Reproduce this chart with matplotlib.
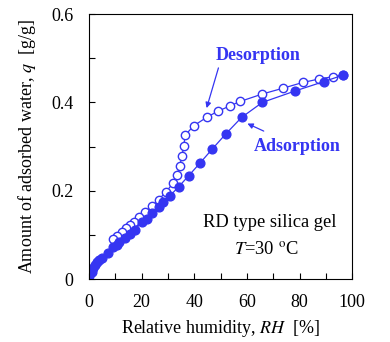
import matplotlib.pyplot as plt
from matplotlib.ticker import MultipleLocator

# adsorption / desorption isotherm, RD type silica gel, 30 C
rh_ads = [0.1, 1.0, 1.65, 2.4, 3.2, 3.9, 4.8, 7.4, 9.3, 10.6, 11.6, 13.7, 15.6, 17.6,
          20.1, 22.0, 23.9, 26.5, 28.1, 30.7, 34.1, 37.9, 42.1, 46.8, 51.9, 58.0,
          65.9, 78.4, 89.2, 96.7]
q_ads = [0.007, 0.017, 0.024, 0.032, 0.038, 0.043, 0.048, 0.060, 0.072, 0.077, 0.083,
         0.094, 0.103, 0.112, 0.130, 0.137, 0.149, 0.164, 0.174, 0.188, 0.209, 0.234,
         0.262, 0.294, 0.328, 0.366, 0.400, 0.426, 0.447, 0.462]

rh_des = [96.7, 92.6, 87.5, 81.2, 73.7, 65.9, 57.4, 53.6, 49.0, 44.7, 39.8, 36.6, 36.0,
          35.4, 34.5, 33.5, 31.9, 29.4, 26.5, 23.9, 21.4, 19.2, 17.3, 15.6, 14.1, 12.5,
          10.8, 9.3]
q_des = [0.462, 0.458, 0.453, 0.445, 0.432, 0.419, 0.402, 0.392, 0.380, 0.366, 0.347,
         0.326, 0.302, 0.279, 0.257, 0.235, 0.217, 0.198, 0.180, 0.165, 0.151, 0.140,
         0.130, 0.122, 0.115, 0.106, 0.097, 0.090]

blue = '#3535f2'
plt.rcParams['font.family'] = ['Liberation Serif', 'DejaVu Serif']
plt.rcParams['mathtext.fontset'] = 'stix'

fig = plt.figure(figsize=(3.9, 3.42), dpi=100)
ax = fig.add_axes([0.228, 0.184, 0.675, 0.775])

# desorption first so filled points sit on top
ax.plot(rh_des, q_des, '-o', color=blue, mfc='white', mec=blue, ms=6, mew=1.0, lw=0.9)
ax.plot(rh_ads, q_ads, '-o', color=blue, mfc=blue, mec=blue, ms=6.3, lw=0.9)

ax.set_xlim(0, 100)
ax.set_ylim(0, 0.6)
ax.xaxis.set_major_locator(MultipleLocator(20))
ax.xaxis.set_minor_locator(MultipleLocator(10))
ax.yaxis.set_major_locator(MultipleLocator(0.2))
ax.yaxis.set_minor_locator(MultipleLocator(0.1))
ax.tick_params(which='both', direction='in', length=4, width=0.8, labelsize=13)
ax.tick_params(axis='y', pad=11)
ax.tick_params(axis='x', pad=11)
ax.set_yticks([0, 0.2, 0.4, 0.6])
ax.set_yticklabels(['0', '0.2', '0.4', '0.6'])

ax.set_xlabel('Relative humidity, $\\it{RH}$  [%]', fontsize=13, va='center')
ax.set_ylabel('Amount of adsorbed water, $\\it{q}$  [g/g]', fontsize=13, va='center')
ax.xaxis.set_label_coords(0.5, -0.185)
ax.yaxis.set_label_coords(-0.236, 0.5)

# labels and arrows
arrow = dict(arrowstyle='-|>', color=blue, lw=0.9, shrinkA=0, shrinkB=0,
             mutation_scale=8)
ax.text(64.3, 0.505, 'Desorption', ha='center', va='center', color=blue,
        fontsize=13, fontweight='bold')
ax.annotate('', xy=(44.7, 0.387), xytext=(49.2, 0.478), arrowprops=arrow)
ax.text(79.3, 0.300, 'Adsorption', ha='center', va='center', color=blue,
        fontsize=13, fontweight='bold')
ax.annotate('', xy=(60.2, 0.352), xytext=(66.4, 0.335), arrowprops=arrow)

ax.text(68.7, 0.129, 'RD type silica gel', ha='center', va='center', fontsize=13.3)
ax.text(67.5, 0.066, '$\\it{T}$=30 $^{\\rm{o}}$C', ha='center', va='center', fontsize=13.3)

fig.savefig('out.png', dpi=100)
